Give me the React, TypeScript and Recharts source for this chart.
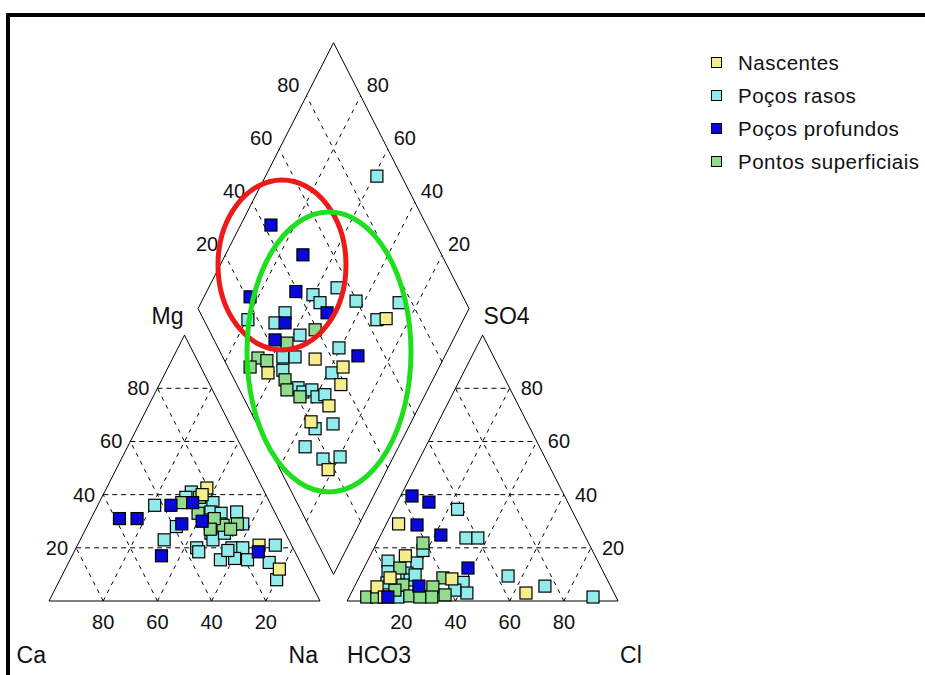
import { Legend, ReferenceLine, Scatter, ScatterChart, XAxis, YAxis } from "recharts";

const TICKS = [20, 40, 60, 80];

// cation triangle: [Mg %, Na %]  (Ca is the rest)
const nascentesCat = [[42.5, 37], [21, 67], [12, 79], [40, 36.5]];
const rasosCat = [
  [36, 21], [41, 32], [36, 39], [37, 42], [28, 33], [23, 31], [20, 44.5], [18.5, 46],
  [33.5, 43], [29, 45], [25.5, 47], [23, 49], [33, 47], [29, 48.5], [33.5, 52.5], [29, 57],
  [25.5, 52], [20, 57.5], [15.5, 55.5], [20, 61.5], [15.5, 65.5], [21, 73], [14.5, 74], [8, 80],
  [16, 60.5], [19, 56.5], [30.5, 42], [39, 31],
];
const profundosCat = [[31, 10.5], [31, 17], [36, 27], [37, 34.5], [29, 34.5], [17, 33], [18.5, 68], [30, 41.5]];
const superficiaisCat = [[37, 30.5], [33, 38.5], [29, 55], [28.5, 50], [31, 45.5], [27, 53.5], [39, 36], [27, 46]];

// anion triangle: [SO4 %, Cl %]  (HCO3 is the rest)
const nascentesAn = [[29, 4.5], [17, 13], [8.3, 34.5], [5.3, 8.4], [3, 64.5], [1.5, 13], [8.7, 11.5]];
const rasosAn = [
  [34.5, 23.5], [23.7, 32], [23.7, 36.4], [19, 18.5], [15, 7.6], [14.3, 18.6], [11, 9.6], [10.5, 16.8],
  [7, 39.3], [6.8, 11.3], [3, 42.7], [1.5, 18], [4.1, 37.7], [9.4, 54.7], [5.6, 70.2], [1.5, 90],
  [7.9, 19.3], [9.8, 20.2],
];
const profundosAn = [[39.5, 4.2], [37.2, 11.6], [28.6, 11.5], [24.8, 22.2], [12.4, 38.4], [5.6, 23.7], [1.5, 14.3]];
const superficiaisAn = [
  [21.8, 17.1], [12.4, 13.3], [8.7, 31], [6, 17.6], [5.3, 29], [1.5, 6.5], [1.5, 10.2], [1.9, 22.2],
  [1.5, 26.1], [1.5, 30.5], [2.3, 35], [4.1, 15.6],
];

// diamond: [Ca+Mg %, SO4+Cl %]
const nascentesDia = [[28.7, 67.5], [47.3, 33.7], [62.1, 13.7], [35.5, 42.5], [33, 38.4], [33.4, 30], [37, 20.4], [21.7, 17.7]];
const rasosDia = [
  [58.9, 90.9], [60.2, 45], [56.1, 46.1], [52.6, 55.2], [43.1, 59.7], [26.9, 75.3], [31.9, 63.9], [67.1, 31.3],
  [68.9, 25.7], [79.5, 16.3], [57.4, 32.6], [40.6, 44.6], [59.6, 22.2], [55.1, 26.7], [57.1, 19.7], [38.5, 37.3],
  [48.2, 22], [45.6, 23], [42.7, 26.7], [39.5, 27.3], [37, 30.6], [34.2, 20.6], [28.5, 28.1], [34.5, 13.5],
  [25.6, 17.8], [19.7, 24.5],
];
const profundosDia = [[88.8, 42.6], [71.4, 48.8], [83, 21.4], [67.1, 39.3], [51.6, 46.8], [65.2, 29.4], [65.7, 22.5], [32.1, 50.1]];
const superficiaisDia = [[52.8, 39.2], [60.7, 26.3], [68.6, 12.8], [64.8, 15.6], [69.8, 8.2], [54.5, 18.7], [51.9, 17.5], [45.8, 21]];

const H = Math.sqrt(3) / 2;
const GAP = 10;
const toCat = (mg: number, na: number) => ({ x: na + mg / 2, y: mg * H });
const toAn = (so4: number, cl: number) => ({ x: 100 + GAP + cl + so4 / 2, y: so4 * H });
const toDia = (caMg: number, so4Cl: number) => ({
  x: 100 + GAP / 2 + (so4Cl - caMg) / 2,
  y: GAP * H + (so4Cl + caMg) * H,
});

// pixel scale of the picture (it is stretched vertically)
const PX_X = 2.71;
const PX_Y = 3.07;
const W = 925;
const HGT = 675;
const OX = 49;
const OY = 601;
const X_DOMAIN = [-OX / PX_X, (W - OX) / PX_X];
const Y_DOMAIN = [-(HGT - OY) / PX_Y, OY / PX_Y];

const FONT = "'Liberation Sans', Arial, Helvetica, sans-serif";

const series = [
  { name: "Nascentes", color: "#f4ee8c", cat: nascentesCat, an: nascentesAn, dia: nascentesDia },
  { name: "Poços rasos", color: "#93ecec", cat: rasosCat, an: rasosAn, dia: rasosDia },
  { name: "Poços profundos", color: "#0808d8", cat: profundosCat, an: profundosAn, dia: profundosDia },
  { name: "Pontos superficiais", color: "#8fdc8f", cat: superficiaisCat, an: superficiaisAn, dia: superficiaisDia },
];
const drawOrder = [1, 3, 0, 2];

const pointsOf = (s: (typeof series)[number]) => [
  ...s.cat.map(([a, b]) => toCat(a, b)),
  ...s.an.map(([a, b]) => toAn(a, b)),
  ...s.dia.map(([a, b]) => toDia(a, b)),
];

type Pt = { x: number; y: number };
type Seg = { a: Pt; b: Pt; dash?: string };
const segs: Seg[] = [];
const poly = (pts: Pt[]) => pts.forEach((p, i) => segs.push({ a: p, b: pts[(i + 1) % pts.length] }));
poly([toCat(0, 0), toCat(0, 100), toCat(100, 0)]);
poly([toAn(0, 0), toAn(0, 100), toAn(100, 0)]);
poly([toDia(0, 0), toDia(100, 0), toDia(100, 100), toDia(0, 100)]);
const FLAT = "5 4";
const SLANT = "4 5";
TICKS.forEach((k) => {
  segs.push({ a: toCat(k, 0), b: toCat(k, 100 - k), dash: FLAT });
  segs.push({ a: toCat(0, k), b: toCat(100 - k, k), dash: SLANT });
  segs.push({ a: toCat(0, 100 - k), b: toCat(100 - k, 0), dash: SLANT });
  segs.push({ a: toAn(k, 0), b: toAn(k, 100 - k), dash: FLAT });
  segs.push({ a: toAn(0, k), b: toAn(100 - k, k), dash: SLANT });
  segs.push({ a: toAn(0, 100 - k), b: toAn(100 - k, 0), dash: SLANT });
  segs.push({ a: toDia(k, 0), b: toDia(k, 100), dash: SLANT });
  segs.push({ a: toDia(0, k), b: toDia(100, k), dash: SLANT });
});

type Lbl = Pt & { text: string; anchor: string; dx: number; dy: number; size: number };
const labels: Lbl[] = [];
TICKS.forEach((k) => {
  const t = String(k);
  labels.push({ ...toCat(k, 0), text: t, anchor: "end", dx: -8, dy: 7, size: 20 });
  labels.push({ ...toCat(0, 100 - k), text: t, anchor: "middle", dx: 0, dy: 28, size: 20 });
  labels.push({ ...toAn(k, 100 - k), text: t, anchor: "start", dx: 11, dy: 7, size: 20 });
  labels.push({ ...toAn(0, k), text: t, anchor: "middle", dx: 0, dy: 28, size: 20 });
  labels.push({ ...toDia(100, k), text: t, anchor: "end", dx: -7, dy: -4, size: 20 });
  labels.push({ ...toDia(k, 100), text: t, anchor: "start", dx: 6, dy: -4, size: 20 });
});
labels.push({ ...toCat(0, 0), text: "Ca", anchor: "end", dx: -3, dy: 62, size: 23 });
labels.push({ ...toCat(0, 100), text: "Na", anchor: "end", dx: -2, dy: 62, size: 23 });
labels.push({ ...toAn(0, 0), text: "HCO3", anchor: "start", dx: 0, dy: 62, size: 23 });
labels.push({ ...toAn(0, 100), text: "Cl", anchor: "start", dx: 2, dy: 62, size: 23 });
labels.push({ ...toCat(100, 0), text: "Mg", anchor: "end", dx: -1, dy: -11, size: 23 });
labels.push({ ...toAn(100, 0), text: "SO4", anchor: "start", dx: 1, dy: -11, size: 23 });

// hand drawn groupings
const ellipses = [
  { x: (282 - OX) / PX_X, y: (OY - 265) / PX_Y, rx: 64, ry: 85, color: "#ee1a1a" },
  { x: (329 - OX) / PX_X, y: (OY - 352) / PX_Y, rx: 82, ry: 140, color: "#1edf1e" },
];

const square = (color: string) => (p: any) => (
  <rect x={p.cx - 6} y={p.cy - 6} width={12} height={12} fill={color} stroke="#000" strokeWidth={1.2} />
);

const renderLegend = () => (
  <div style={{ fontFamily: FONT, fontSize: 20.5, letterSpacing: 0.5, color: "#111" }}>
    {series.map((s) => (
      <div key={s.name} style={{ display: "flex", alignItems: "center", height: 33 }}>
        <span
          style={{
            width: 9,
            height: 9,
            background: s.color,
            border: "1.3px solid #000",
            marginRight: 16,
            display: "inline-block",
          }}
        />
        <span>{s.name}</span>
      </div>
    ))}
  </div>
);

export default function App() {
  return (
    <div style={{ position: "relative", width: W, height: HGT, background: "#fff", overflow: "hidden" }}>
      <style>{"body{margin:0}"}</style>
      <div
        style={{
          position: "absolute",
          left: 6,
          top: 13,
          width: W,
          height: HGT,
          borderTop: "4px solid #000",
          borderLeft: "4px solid #000",
        }}
      />
      <ScatterChart width={W} height={HGT} margin={{ top: 0, right: 0, bottom: 0, left: 0 }}>
        <XAxis type="number" dataKey="x" domain={X_DOMAIN} allowDataOverflow hide />
        <YAxis type="number" dataKey="y" domain={Y_DOMAIN} allowDataOverflow hide />
        {segs.map((s, i) => (
          <ReferenceLine
            key={i}
            segment={[s.a, s.b]}
            stroke="#000"
            strokeWidth={1}
            strokeDasharray={s.dash}
            ifOverflow="visible"
          />
        ))}
        <Scatter
          data={labels}
          legendType="none"
          isAnimationActive={false}
          shape={(p: any) => (
            <text
              x={p.cx + p.payload.dx}
              y={p.cy + p.payload.dy}
              textAnchor={p.payload.anchor}
              fontFamily={FONT}
              fontSize={p.payload.size}
              fill="#111"
            >
              {p.payload.text}
            </text>
          )}
        />
        {drawOrder.map((i) => (
          <Scatter
            key={series[i].name}
            name={series[i].name}
            data={pointsOf(series[i])}
            fill={series[i].color}
            isAnimationActive={false}
            shape={square(series[i].color)}
          />
        ))}
        <Scatter
          data={ellipses}
          legendType="none"
          isAnimationActive={false}
          shape={(p: any) => (
            <ellipse
              cx={p.cx}
              cy={p.cy}
              rx={p.payload.rx}
              ry={p.payload.ry}
              fill="none"
              stroke={p.payload.color}
              strokeWidth={5}
            />
          )}
        />
        <Legend
          layout="vertical"
          align="center"
          verticalAlign="middle"
          content={renderLegend}
          wrapperStyle={{ position: "absolute", left: 711, top: 46, width: 214 }}
        />
      </ScatterChart>
    </div>
  );
}
